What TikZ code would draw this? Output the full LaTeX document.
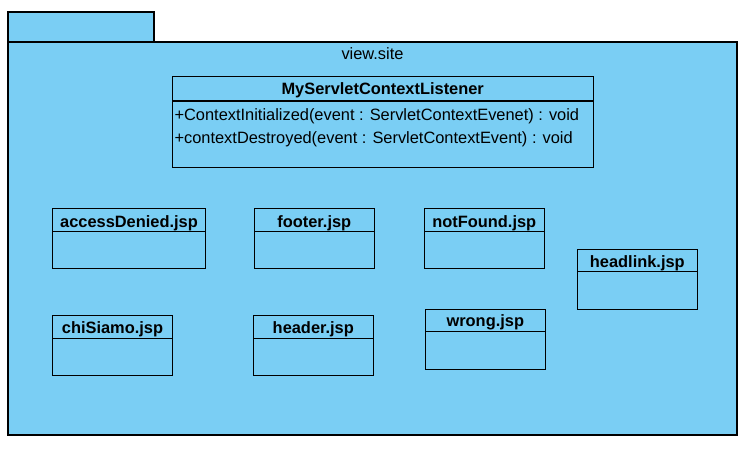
\documentclass[tikz,border=0pt]{standalone}
\usepackage{fontspec}
\setmainfont{Liberation Sans}
\definecolor{pkgblue}{RGB}{122,206,244}
\newcommand{\umlfont}{\fontsize{16.4}{19.7}\selectfont}

\begin{document}
\begin{tikzpicture}[x=1pt, y=-1pt, line width=1.1pt,
    box/.style={draw, fill=pkgblue, inner sep=0pt, outer sep=0pt},
    jsp/.style={box, minimum width=120pt, minimum height=60pt},
    title/.style={anchor=base, inner sep=0pt, font=\umlfont\bfseries},
    op/.style={anchor=base west, inner sep=0pt, font=\umlfont}]
   \useasboundingbox (0,0) rectangle (746,449);
   % package
   \node[box, minimum width=146pt, minimum height=30pt] (tab) at (81,27) {};
   \node[box, minimum width=729pt, minimum height=393pt] (pkg) at (372.5,238.5) {};
   \node[op, anchor=base] (pkgname) at ([yshift=-18pt]pkg.north) {view.site};

   % listener class
   \node[box, minimum width=420.7pt, minimum height=91pt] (listener) at (382.7,122.2) {};
   \node[title] at ([yshift=-17.6pt]listener.north) {MyServletContextListener};
   \draw ([yshift=-24.3pt]listener.north west) -- ([yshift=-24.3pt]listener.north east);
   \node[op] (init) at (174,120.7) {+ContextInitialized(event : ServletContextEvenet) : void};
   \node[op] (destroy) at (174,143.3) {+contextDestroyed(event : ServletContextEvent) : void};

   % jsp pages
   \node[jsp, minimum width=153.4pt] (access) at (129,238.3) {};
   \node[jsp] (footer) at (314.3,238.3) {};
   \node[jsp] (notfound) at (484.3,238.3) {};
   \node[jsp] (headlink) at (637.3,279.2) {};
   \node[jsp] (chisiamo) at (112.5,345.3) {};
   \node[jsp] (header) at (313.3,345.3) {};
   \node[jsp] (wrong) at (485.3,339.3) {};

   \node[title] at ([yshift=-19pt]access.north) {accessDenied.jsp};
   \node[title] at ([yshift=-19pt]footer.north) {footer.jsp};
   \node[title] at ([yshift=-19pt]notfound.north) {notFound.jsp};
   \node[title] at ([yshift=-18.3pt]headlink.north) {headlink.jsp};
   \node[title] at ([yshift=-18.3pt]chisiamo.north) {chiSiamo.jsp};
   \node[title] at ([yshift=-18pt]header.north) {header.jsp};
   \node[title] at ([yshift=-17.4pt]wrong.north) {wrong.jsp};

   \draw ([yshift=-23.4pt]access.north west) -- ([yshift=-23.4pt]access.north east);
   \draw ([yshift=-23.4pt]footer.north west) -- ([yshift=-23.4pt]footer.north east);
   \draw ([yshift=-23.4pt]notfound.north west) -- ([yshift=-23.4pt]notfound.north east);
   \draw ([yshift=-22.7pt]headlink.north west) -- ([yshift=-22.7pt]headlink.north east);
   \draw ([yshift=-23pt]chisiamo.north west) -- ([yshift=-23pt]chisiamo.north east);
   \draw ([yshift=-23pt]header.north west) -- ([yshift=-23pt]header.north east);
   \draw ([yshift=-22pt]wrong.north west) -- ([yshift=-22pt]wrong.north east);
\end{tikzpicture}
\end{document}
